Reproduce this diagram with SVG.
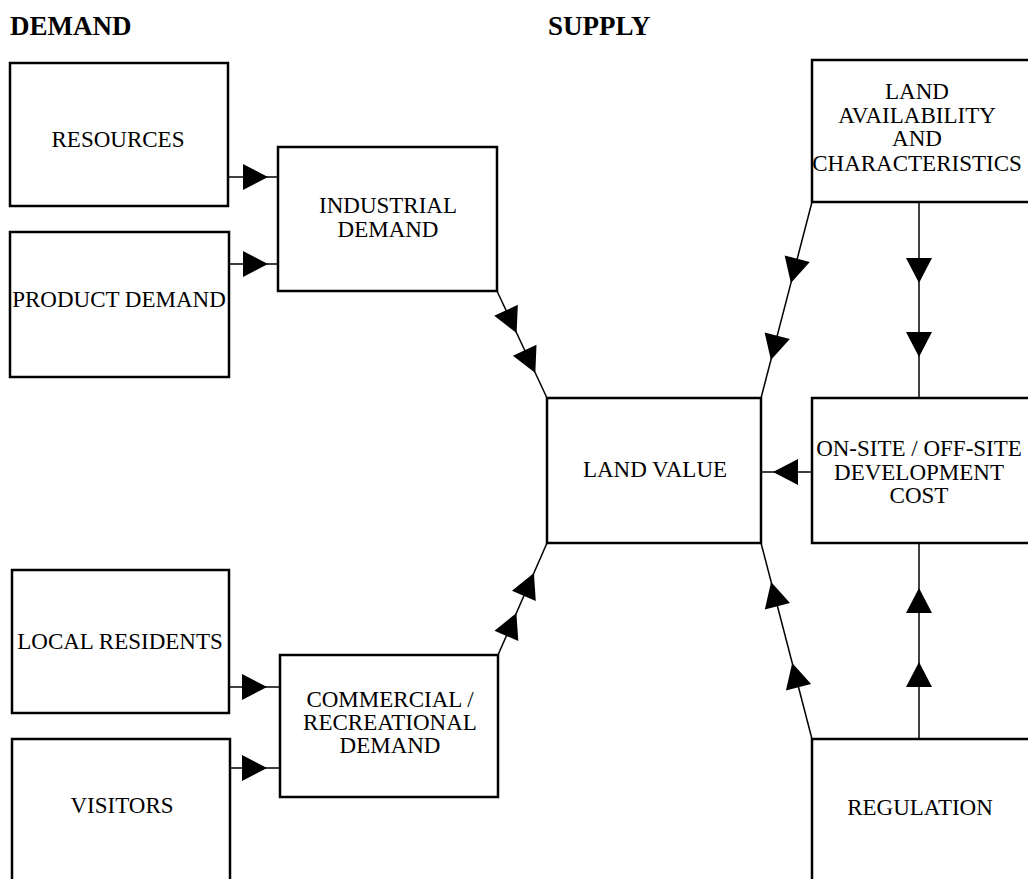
<svg xmlns="http://www.w3.org/2000/svg" xmlns:xlink="http://www.w3.org/1999/xlink" width="1028" height="879" viewBox="0 0 1028 879">
<style>
.box{fill:#fff;stroke:#000;stroke-width:2.5}
.t{font-family:"Liberation Serif","Times New Roman",serif;font-size:23px;fill:#000;text-anchor:middle}
.h{font-family:"Liberation Serif","Times New Roman",serif;font-size:27px;font-weight:bold;fill:#000}
.c{fill:none;stroke:#000;stroke-width:1.5}
</style>
<defs>
<path id="tri" d="M0,0 L-25,-13 L-25,13 Z" fill="#000"/>
</defs>
<rect width="1028" height="879" fill="#fff"/>
<text class="h" x="10" y="35">DEMAND</text>
<text class="h" x="548" y="35">SUPPLY</text>

<g id="connectors">
<line class="c" x1="228" y1="177" x2="278" y2="177"/>
<use xlink:href="#tri" transform="translate(268,177)"/>
<line class="c" x1="229" y1="264" x2="278" y2="264"/>
<use xlink:href="#tri" transform="translate(268,264)"/>
<line class="c" x1="229" y1="687" x2="280" y2="687"/>
<use xlink:href="#tri" transform="translate(267,687)"/>
<line class="c" x1="230" y1="768" x2="280" y2="768"/>
<use xlink:href="#tri" transform="translate(267,768)"/>

<line class="c" x1="497" y1="291" x2="547" y2="398"/>
<use xlink:href="#tri" transform="translate(516.6,333) rotate(65)"/>
<use xlink:href="#tri" transform="translate(535.3,373) rotate(65)"/>

<line class="c" x1="812" y1="202" x2="761" y2="398"/>
<use xlink:href="#tri" transform="translate(790.9,283) rotate(104.6)"/>
<use xlink:href="#tri" transform="translate(770.9,360) rotate(104.6)"/>

<line class="c" x1="919" y1="202" x2="919" y2="398"/>
<use xlink:href="#tri" transform="translate(919,283) rotate(90)"/>
<use xlink:href="#tri" transform="translate(919,357) rotate(90)"/>

<line class="c" x1="812" y1="472" x2="761" y2="472"/>
<use xlink:href="#tri" transform="translate(773,472) rotate(180)"/>

<line class="c" x1="498" y1="655" x2="547" y2="543"/>
<use xlink:href="#tri" transform="translate(533.9,573) rotate(-66.4)"/>
<use xlink:href="#tri" transform="translate(516.4,613) rotate(-66.4)"/>

<line class="c" x1="812" y1="739" x2="761" y2="543"/>
<use xlink:href="#tri" transform="translate(771.1,582) rotate(-104.6)"/>
<use xlink:href="#tri" transform="translate(792.2,663) rotate(-104.6)"/>

<line class="c" x1="919" y1="739" x2="919" y2="543"/>
<use xlink:href="#tri" transform="translate(919,588) rotate(-90)"/>
<use xlink:href="#tri" transform="translate(919,662) rotate(-90)"/>
</g>

<g id="resources">
<rect class="box" x="10" y="63" width="218" height="143"/>
<text class="t" x="118" y="147">RESOURCES</text>
</g>
<g id="product-demand">
<rect class="box" x="10" y="232" width="219" height="145"/>
<text class="t" x="119" y="307">PRODUCT DEMAND</text>
</g>
<g id="industrial-demand">
<rect class="box" x="278" y="147" width="219" height="144"/>
<text class="t" x="388" y="213">INDUSTRIAL</text>
<text class="t" x="388" y="237">DEMAND</text>
</g>
<g id="local-residents">
<rect class="box" x="12" y="570" width="217" height="143"/>
<text class="t" x="120" y="649">LOCAL RESIDENTS</text>
</g>
<g id="visitors">
<rect class="box" x="12" y="739" width="218" height="160"/>
<text class="t" x="122" y="813">VISITORS</text>
</g>
<g id="commercial-demand">
<rect class="box" x="280" y="655" width="218" height="142"/>
<text class="t" x="390" y="707">COMMERCIAL /</text>
<text class="t" x="390" y="730">RECREATIONAL</text>
<text class="t" x="390" y="753">DEMAND</text>
</g>
<g id="land-value">
<rect class="box" x="547" y="398" width="214" height="145"/>
<text class="t" x="655" y="477">LAND VALUE</text>
</g>
<g id="land-availability">
<rect class="box" x="812" y="60" width="230" height="142"/>
<text class="t" x="917" y="99">LAND</text>
<text class="t" x="917" y="123">AVAILABILITY</text>
<text class="t" x="917" y="146">AND</text>
<text class="t" x="917" y="171">CHARACTERISTICS</text>
</g>
<g id="development-cost">
<rect class="box" x="812" y="398" width="230" height="145"/>
<text class="t" x="919" y="456">ON-SITE / OFF-SITE</text>
<text class="t" x="919" y="480">DEVELOPMENT</text>
<text class="t" x="919" y="503">COST</text>
</g>
<g id="regulation">
<rect class="box" x="812" y="739" width="230" height="160"/>
<text class="t" x="920" y="815">REGULATION</text>
</g>
</svg>
